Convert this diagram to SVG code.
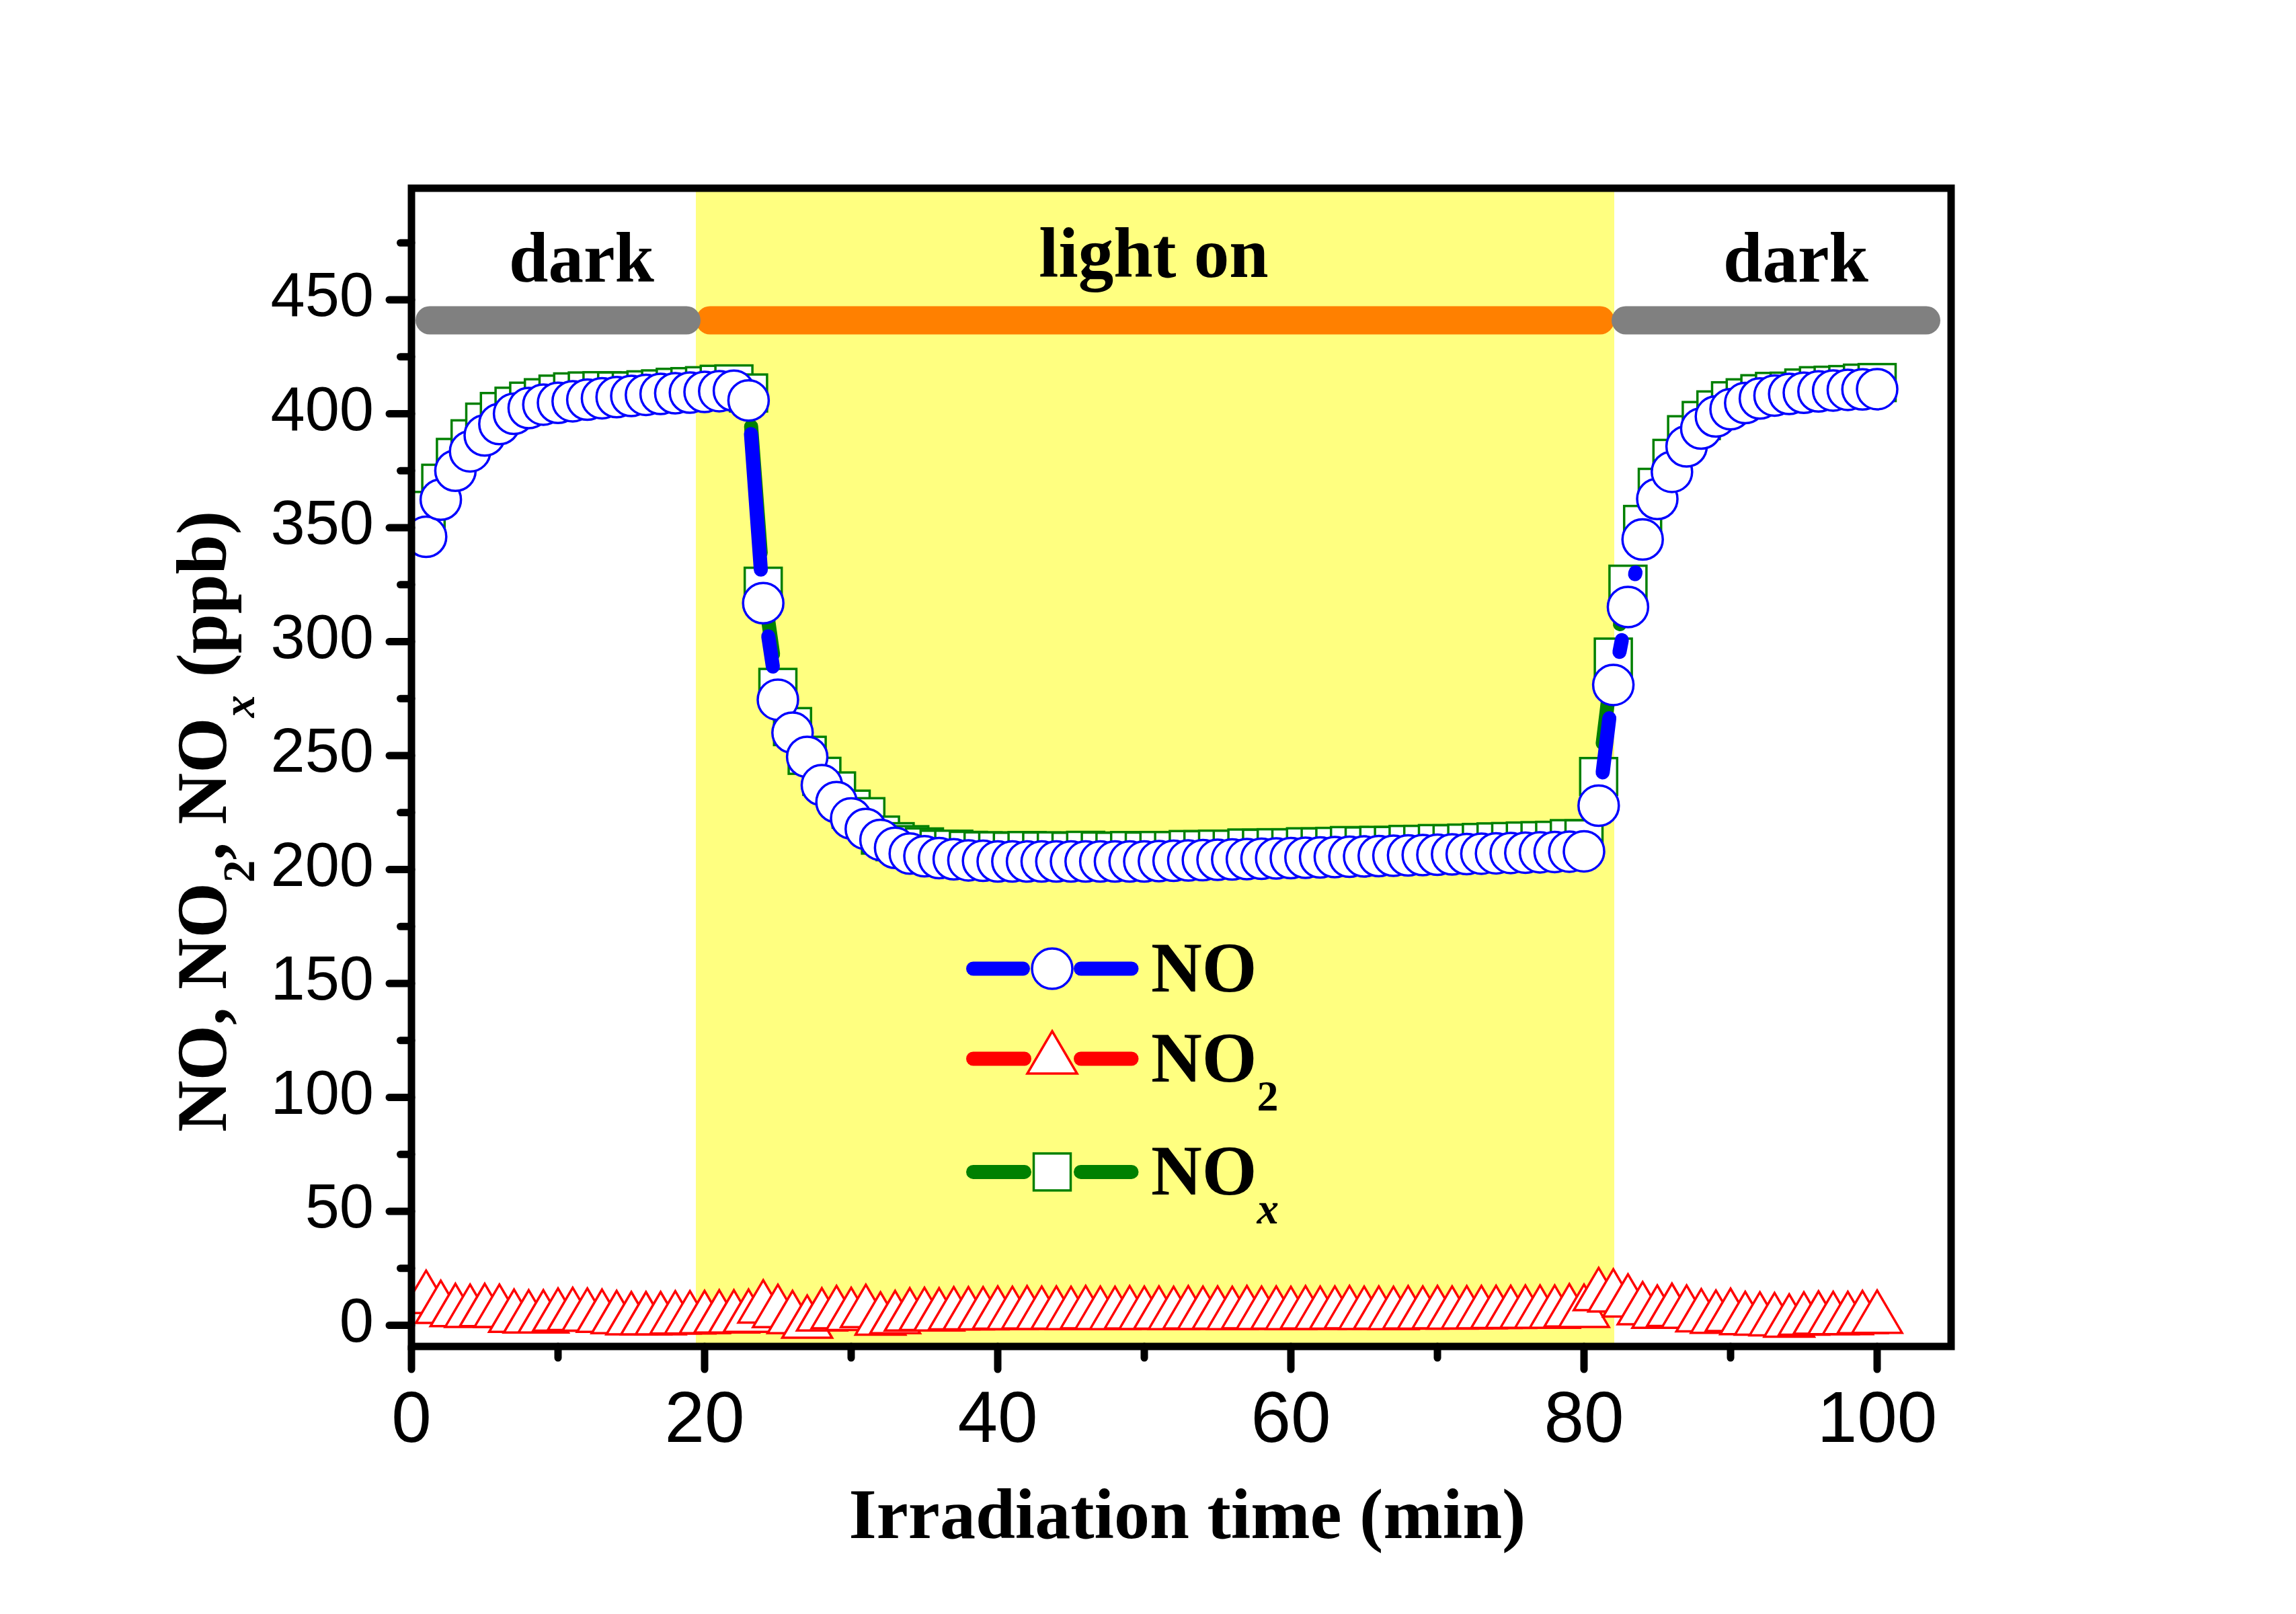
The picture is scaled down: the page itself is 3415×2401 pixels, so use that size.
<svg xmlns="http://www.w3.org/2000/svg" xmlns:xlink="http://www.w3.org/1999/xlink" width="3415" height="2401" viewBox="0 0 3415 2401">
<style>
.tk{font-family:"Liberation Sans",Arial,sans-serif;font-size:92px;fill:#000;text-anchor:end}
.tx{font-family:"Liberation Sans",Arial,sans-serif;font-size:107px;fill:#000;text-anchor:middle}
.tb{font-family:"Liberation Serif","Times New Roman",serif;font-weight:bold;fill:#000}
.blue{stroke:#0000FF;stroke-width:21;stroke-linecap:round;fill:none}
.green{stroke:#008000;stroke-width:21;stroke-linecap:round;fill:none}
.red{stroke:#FF0000;stroke-width:21;stroke-linecap:round;fill:none}
.tick{stroke:#000;stroke-width:11;stroke-linecap:round;fill:none}
</style>
<defs>
<clipPath id="clip"><rect x="612" y="280" width="2290" height="1723"/></clipPath>
<circle id="mc" r="30" fill="#fff" stroke="#0000FF" stroke-width="3.5"/>
<rect id="ms" x="-27.5" y="-27.5" width="55" height="55" fill="#fff" stroke="#008000" stroke-width="3.5"/>
<path id="mt" d="M0,-42 L37,21 L-37,21 Z" fill="#fff" stroke="#FF0000" stroke-width="3.5" stroke-linejoin="miter"/>
</defs>
<rect width="3415" height="2401" fill="#fff"/>
<g id="background">
<rect x="1035" y="280" width="1366" height="1723" fill="#FFFF80"/>
</g>
<g id="phase-bars" stroke-linecap="round" stroke-width="42">
<line x1="1056" y1="476.5" x2="2380" y2="476.5" stroke="#FF8000"/>
<line x1="639" y1="476.5" x2="1021" y2="476.5" stroke="#808080"/>
<line x1="2418" y1="476.5" x2="2865" y2="476.5" stroke="#808080"/>
</g>
<g id="phase-labels" class="tb" font-size="105" text-anchor="middle">
<text x="865" y="419">dark</text>
<text x="1716" y="412">light on</text>
<text x="2671" y="419">dark</text>
</g>
<g id="data" clip-path="url(#clip)">
<g id="series-NOx">
<g class="green">
<line x1="1117.2" y1="634.5" x2="1131.4" y2="822.2"/>
<line x1="1142.4" y1="921.6" x2="1149.8" y2="973.1"/>
<line x1="2383.9" y1="1105.6" x2="2393.5" y2="1027.1"/>
<line x1="2409.5" y1="928.5" x2="2411.5" y2="918.1"/>
</g>
<use href="#ms" x="633.8" y="759.3"/><use href="#ms" x="655.6" y="718.9"/><use href="#ms" x="677.4" y="680.5"/><use href="#ms" x="699.2" y="652.8"/><use href="#ms" x="721" y="628"/><use href="#ms" x="742.8" y="612.2"/><use href="#ms" x="764.6" y="604.3"/><use href="#ms" x="786.4" y="596.8"/><use href="#ms" x="808.2" y="591.7"/><use href="#ms" x="830" y="586.3"/>
<use href="#ms" x="851.8" y="583"/><use href="#ms" x="873.6" y="581.6"/><use href="#ms" x="895.4" y="581.2"/><use href="#ms" x="917.2" y="581.6"/><use href="#ms" x="939" y="581.6"/><use href="#ms" x="960.8" y="579.9"/><use href="#ms" x="982.6" y="578.5"/><use href="#ms" x="1004.4" y="576.2"/><use href="#ms" x="1026.2" y="575.2"/><use href="#ms" x="1048" y="573.8"/>
<use href="#ms" x="1069.8" y="571.7"/><use href="#ms" x="1091.6" y="571.1"/><use href="#ms" x="1113.4" y="584.6"/><use href="#ms" x="1135.2" y="872.1"/><use href="#ms" x="1157" y="1022.6"/><use href="#ms" x="1178.8" y="1080.9"/><use href="#ms" x="1200.6" y="1123.6"/><use href="#ms" x="1222.4" y="1154.9"/><use href="#ms" x="1244.2" y="1176.6"/><use href="#ms" x="1266" y="1203.7"/>
<use href="#ms" x="1287.8" y="1214.9"/><use href="#ms" x="1309.6" y="1242.3"/><use href="#ms" x="1331.4" y="1252.1"/><use href="#ms" x="1353.2" y="1256.6"/><use href="#ms" x="1375" y="1259.9"/><use href="#ms" x="1396.8" y="1263.3"/><use href="#ms" x="1418.6" y="1263.3"/><use href="#ms" x="1440.4" y="1265"/><use href="#ms" x="1462.2" y="1265.7"/><use href="#ms" x="1484" y="1265.7"/>
<use href="#ms" x="1505.8" y="1266.3"/><use href="#ms" x="1527.6" y="1265.3"/><use href="#ms" x="1549.4" y="1266"/><use href="#ms" x="1571.2" y="1265.7"/><use href="#ms" x="1593" y="1266.3"/><use href="#ms" x="1614.8" y="1265"/><use href="#ms" x="1636.6" y="1266"/><use href="#ms" x="1658.4" y="1266.3"/><use href="#ms" x="1680.2" y="1265.3"/><use href="#ms" x="1702" y="1266"/>
<use href="#ms" x="1723.8" y="1265.2"/><use href="#ms" x="1745.6" y="1265.3"/><use href="#ms" x="1767.4" y="1263.8"/><use href="#ms" x="1789.2" y="1264"/><use href="#ms" x="1811" y="1263.2"/><use href="#ms" x="1832.8" y="1263.3"/><use href="#ms" x="1854.6" y="1261.5"/><use href="#ms" x="1876.4" y="1261.9"/><use href="#ms" x="1898.2" y="1261.1"/><use href="#ms" x="1920" y="1261.2"/>
<use href="#ms" x="1941.8" y="1259.7"/><use href="#ms" x="1963.6" y="1259.9"/><use href="#ms" x="1985.4" y="1259.1"/><use href="#ms" x="2007.2" y="1257.9"/><use href="#ms" x="2029" y="1258.4"/><use href="#ms" x="2050.8" y="1257.6"/><use href="#ms" x="2072.6" y="1257.7"/><use href="#ms" x="2094.4" y="1256.2"/><use href="#ms" x="2116.2" y="1256.1"/><use href="#ms" x="2138" y="1254.9"/>
<use href="#ms" x="2159.8" y="1255.1"/><use href="#ms" x="2181.6" y="1254.2"/><use href="#ms" x="2203.4" y="1253.3"/><use href="#ms" x="2225.2" y="1252.4"/><use href="#ms" x="2247" y="1251.9"/><use href="#ms" x="2268.8" y="1251.1"/><use href="#ms" x="2290.6" y="1250.6"/><use href="#ms" x="2312.4" y="1250.1"/><use href="#ms" x="2334.2" y="1247.6"/><use href="#ms" x="2356" y="1247.8"/>
<use href="#ms" x="2377.8" y="1155.2"/><use href="#ms" x="2399.6" y="977.5"/><use href="#ms" x="2421.4" y="869.1"/><use href="#ms" x="2443.2" y="780.2"/><use href="#ms" x="2465" y="725"/><use href="#ms" x="2486.8" y="681.9"/><use href="#ms" x="2508.6" y="646.7"/><use href="#ms" x="2530.4" y="625.6"/><use href="#ms" x="2552.2" y="609.8"/><use href="#ms" x="2574" y="596.2"/>
<use href="#ms" x="2595.8" y="591.8"/><use href="#ms" x="2617.6" y="585.7"/><use href="#ms" x="2639.4" y="582.3"/><use href="#ms" x="2661.2" y="581.9"/><use href="#ms" x="2683" y="577.2"/><use href="#ms" x="2704.8" y="573.8"/><use href="#ms" x="2726.6" y="573.1"/><use href="#ms" x="2748.4" y="572.1"/><use href="#ms" x="2770.2" y="570"/><use href="#ms" x="2792" y="569.1"/>
</g>
<g id="series-NO2">
<use href="#mt" x="633.8" y="1932.2"/><use href="#mt" x="655.6" y="1947.1"/><use href="#mt" x="677.4" y="1951.8"/><use href="#mt" x="699.2" y="1952.9"/><use href="#mt" x="721" y="1951.8"/><use href="#mt" x="742.8" y="1952.9"/><use href="#mt" x="764.6" y="1960.3"/><use href="#mt" x="786.4" y="1961.3"/><use href="#mt" x="808.2" y="1961.3"/><use href="#mt" x="830" y="1958.6"/>
<use href="#mt" x="851.8" y="1957.6"/><use href="#mt" x="873.6" y="1958.6"/><use href="#mt" x="895.4" y="1960.3"/><use href="#mt" x="917.2" y="1962.3"/><use href="#mt" x="939" y="1964"/><use href="#mt" x="960.8" y="1964"/><use href="#mt" x="982.6" y="1964"/><use href="#mt" x="1004.4" y="1962.7"/><use href="#mt" x="1026.2" y="1962.7"/><use href="#mt" x="1048" y="1962.3"/>
<use href="#mt" x="1069.8" y="1961.3"/><use href="#mt" x="1091.6" y="1961.3"/><use href="#mt" x="1113.4" y="1960.3"/><use href="#mt" x="1135.2" y="1946.4"/><use href="#mt" x="1157" y="1953.2"/><use href="#mt" x="1178.8" y="1962.3"/><use href="#mt" x="1200.6" y="1969.1"/><use href="#mt" x="1222.4" y="1958.3"/><use href="#mt" x="1244.2" y="1954.9"/><use href="#mt" x="1266" y="1957.6"/>
<use href="#mt" x="1287.8" y="1953.2"/><use href="#mt" x="1309.6" y="1964.4"/><use href="#mt" x="1331.4" y="1962.3"/><use href="#mt" x="1353.2" y="1958.3"/><use href="#mt" x="1375" y="1957.6"/><use href="#mt" x="1396.8" y="1958.3"/><use href="#mt" x="1418.6" y="1956.6"/><use href="#mt" x="1440.4" y="1956.6"/><use href="#mt" x="1462.2" y="1956.6"/><use href="#mt" x="1484" y="1955.6"/>
<use href="#mt" x="1505.8" y="1956.2"/><use href="#mt" x="1527.6" y="1955.2"/><use href="#mt" x="1549.4" y="1955.9"/><use href="#mt" x="1571.2" y="1955.6"/><use href="#mt" x="1593" y="1956.2"/><use href="#mt" x="1614.8" y="1954.9"/><use href="#mt" x="1636.6" y="1955.9"/><use href="#mt" x="1658.4" y="1956.2"/><use href="#mt" x="1680.2" y="1955.2"/><use href="#mt" x="1702" y="1955.9"/>
<use href="#mt" x="1723.8" y="1955.6"/><use href="#mt" x="1745.6" y="1956.2"/><use href="#mt" x="1767.4" y="1955.2"/><use href="#mt" x="1789.2" y="1955.9"/><use href="#mt" x="1811" y="1955.6"/><use href="#mt" x="1832.8" y="1956.2"/><use href="#mt" x="1854.6" y="1954.9"/><use href="#mt" x="1876.4" y="1955.9"/><use href="#mt" x="1898.2" y="1955.6"/><use href="#mt" x="1920" y="1956.2"/>
<use href="#mt" x="1941.8" y="1955.2"/><use href="#mt" x="1963.6" y="1955.9"/><use href="#mt" x="1985.4" y="1955.6"/><use href="#mt" x="2007.2" y="1954.9"/><use href="#mt" x="2029" y="1955.9"/><use href="#mt" x="2050.8" y="1955.6"/><use href="#mt" x="2072.6" y="1956.2"/><use href="#mt" x="2094.4" y="1955.2"/><use href="#mt" x="2116.2" y="1955.6"/><use href="#mt" x="2138" y="1954.9"/>
<use href="#mt" x="2159.8" y="1955.6"/><use href="#mt" x="2181.6" y="1955.2"/><use href="#mt" x="2203.4" y="1954.9"/><use href="#mt" x="2225.2" y="1954.6"/><use href="#mt" x="2247" y="1954.6"/><use href="#mt" x="2268.8" y="1954.2"/><use href="#mt" x="2290.6" y="1954.2"/><use href="#mt" x="2312.4" y="1954.2"/><use href="#mt" x="2334.2" y="1952.2"/><use href="#mt" x="2356" y="1952.9"/>
<use href="#mt" x="2377.8" y="1928.1"/><use href="#mt" x="2399.6" y="1930.1"/><use href="#mt" x="2421.4" y="1937.6"/><use href="#mt" x="2443.2" y="1949.1"/><use href="#mt" x="2465" y="1954.2"/><use href="#mt" x="2486.8" y="1951.5"/><use href="#mt" x="2508.6" y="1954.2"/><use href="#mt" x="2530.4" y="1959.6"/><use href="#mt" x="2552.2" y="1961.7"/><use href="#mt" x="2574" y="1959"/>
<use href="#mt" x="2595.8" y="1963.7"/><use href="#mt" x="2617.6" y="1964.4"/><use href="#mt" x="2639.4" y="1965.4"/><use href="#mt" x="2661.2" y="1967.4"/><use href="#mt" x="2683" y="1964.4"/><use href="#mt" x="2704.8" y="1963"/><use href="#mt" x="2726.6" y="1963.7"/><use href="#mt" x="2748.4" y="1963.7"/><use href="#mt" x="2770.2" y="1962.3"/><use href="#mt" x="2792" y="1961.7"/>
</g>
<g id="series-NO">
<g class="blue">
<line x1="1117" y1="645.7" x2="1131.6" y2="847.3"/>
<line x1="1142.7" y1="946.7" x2="1149.5" y2="991.5"/>
<line x1="2383.8" y1="1149" x2="2393.6" y2="1068.5"/>
<line x1="2408.8" y1="969.8" x2="2412.2" y2="952.2"/>
<line x1="2432" y1="854.1" x2="2432.6" y2="851.5"/>
</g>
<use href="#mc" x="633.8" y="798.6"/><use href="#mc" x="655.6" y="743.3"/><use href="#mc" x="677.4" y="700.2"/><use href="#mc" x="699.2" y="671.4"/><use href="#mc" x="721" y="647.7"/><use href="#mc" x="742.8" y="630.8"/><use href="#mc" x="764.6" y="615.5"/><use href="#mc" x="786.4" y="607"/><use href="#mc" x="808.2" y="601.9"/><use href="#mc" x="830" y="599.2"/>
<use href="#mc" x="851.8" y="596.9"/><use href="#mc" x="873.6" y="594.5"/><use href="#mc" x="895.4" y="592.4"/><use href="#mc" x="917.2" y="590.8"/><use href="#mc" x="939" y="589.1"/><use href="#mc" x="960.8" y="587.4"/><use href="#mc" x="982.6" y="586"/><use href="#mc" x="1004.4" y="585"/><use href="#mc" x="1026.2" y="584"/><use href="#mc" x="1048" y="583"/>
<use href="#mc" x="1069.8" y="581.9"/><use href="#mc" x="1091.6" y="581.3"/><use href="#mc" x="1113.4" y="595.8"/><use href="#mc" x="1135.2" y="897.2"/><use href="#mc" x="1157" y="1040.9"/><use href="#mc" x="1178.8" y="1090.1"/><use href="#mc" x="1200.6" y="1126"/><use href="#mc" x="1222.4" y="1168.1"/><use href="#mc" x="1244.2" y="1193.2"/><use href="#mc" x="1266" y="1217.6"/>
<use href="#mc" x="1287.8" y="1233.2"/><use href="#mc" x="1309.6" y="1249.4"/><use href="#mc" x="1331.4" y="1261.3"/><use href="#mc" x="1353.2" y="1269.8"/><use href="#mc" x="1375" y="1273.8"/><use href="#mc" x="1396.8" y="1276.5"/><use href="#mc" x="1418.6" y="1278.2"/><use href="#mc" x="1440.4" y="1279.9"/><use href="#mc" x="1462.2" y="1280.6"/><use href="#mc" x="1484" y="1281.6"/>
<use href="#mc" x="1505.8" y="1281.6"/><use href="#mc" x="1527.6" y="1281.6"/><use href="#mc" x="1549.4" y="1281.6"/><use href="#mc" x="1571.2" y="1281.6"/><use href="#mc" x="1593" y="1281.6"/><use href="#mc" x="1614.8" y="1281.6"/><use href="#mc" x="1636.6" y="1281.6"/><use href="#mc" x="1658.4" y="1281.6"/><use href="#mc" x="1680.2" y="1281.6"/><use href="#mc" x="1702" y="1281.6"/>
<use href="#mc" x="1723.8" y="1281.1"/><use href="#mc" x="1745.6" y="1280.6"/><use href="#mc" x="1767.4" y="1280.1"/><use href="#mc" x="1789.2" y="1279.6"/><use href="#mc" x="1811" y="1279.1"/><use href="#mc" x="1832.8" y="1278.6"/><use href="#mc" x="1854.6" y="1278.1"/><use href="#mc" x="1876.4" y="1277.5"/><use href="#mc" x="1898.2" y="1277"/><use href="#mc" x="1920" y="1276.5"/>
<use href="#mc" x="1941.8" y="1276"/><use href="#mc" x="1963.6" y="1275.5"/><use href="#mc" x="1985.4" y="1275"/><use href="#mc" x="2007.2" y="1274.5"/><use href="#mc" x="2029" y="1274"/><use href="#mc" x="2050.8" y="1273.5"/><use href="#mc" x="2072.6" y="1273"/><use href="#mc" x="2094.4" y="1272.5"/><use href="#mc" x="2116.2" y="1272"/><use href="#mc" x="2138" y="1271.5"/>
<use href="#mc" x="2159.8" y="1271"/><use href="#mc" x="2181.6" y="1270.5"/><use href="#mc" x="2203.4" y="1269.9"/><use href="#mc" x="2225.2" y="1269.4"/><use href="#mc" x="2247" y="1268.9"/><use href="#mc" x="2268.8" y="1268.4"/><use href="#mc" x="2290.6" y="1267.9"/><use href="#mc" x="2312.4" y="1267.4"/><use href="#mc" x="2334.2" y="1266.9"/><use href="#mc" x="2356" y="1266.4"/>
<use href="#mc" x="2377.8" y="1198.6"/><use href="#mc" x="2399.6" y="1018.9"/><use href="#mc" x="2421.4" y="903"/><use href="#mc" x="2443.2" y="802.6"/><use href="#mc" x="2465" y="742.3"/><use href="#mc" x="2486.8" y="701.9"/><use href="#mc" x="2508.6" y="664"/><use href="#mc" x="2530.4" y="637.5"/><use href="#mc" x="2552.2" y="619.6"/><use href="#mc" x="2574" y="608.7"/>
<use href="#mc" x="2595.8" y="599.6"/><use href="#mc" x="2617.6" y="592.8"/><use href="#mc" x="2639.4" y="588.4"/><use href="#mc" x="2661.2" y="586"/><use href="#mc" x="2683" y="584.3"/><use href="#mc" x="2704.8" y="582.3"/><use href="#mc" x="2726.6" y="580.9"/><use href="#mc" x="2748.4" y="579.9"/><use href="#mc" x="2770.2" y="579.2"/><use href="#mc" x="2792" y="578.9"/>
</g>
</g>
<g id="axes">
<rect x="612" y="280" width="2290" height="1723" fill="none" stroke="#000" stroke-width="11"/>
<path class="tick" d="M612,1971.5H579M612,1802H579M612,1632.5H579M612,1463H579M612,1293.5H579M612,1124H579M612,954.5H579M612,785H579M612,615.5H579M612,446H579"/>
<path class="tick" d="M612,1886.75H595.5M612,1717.25H595.5M612,1547.75H595.5M612,1378.25H595.5M612,1208.75H595.5M612,1039.25H595.5M612,869.75H595.5M612,700.25H595.5M612,530.75H595.5M612,361.25H595.5"/>
<path class="tick" d="M612,2003V2037M1048,2003V2037M1484,2003V2037M1920,2003V2037M2356,2003V2037M2792,2003V2037"/>
<path class="tick" d="M830,2003V2020M1266,2003V2020M1702,2003V2020M2138,2003V2020M2574,2003V2020"/>
</g>
<g id="y-tick-labels" class="tk">
<text x="556" y="1995.5">0</text>
<text x="556" y="1826">50</text>
<text x="556" y="1656.5">100</text>
<text x="556" y="1487">150</text>
<text x="556" y="1317.5">200</text>
<text x="556" y="1148">250</text>
<text x="556" y="978.5">300</text>
<text x="556" y="809">350</text>
<text x="556" y="639.5">400</text>
<text x="556" y="470">450</text>
</g>
<g id="x-tick-labels" class="tx">
<text x="612" y="2145">0</text>
<text x="1048" y="2145">20</text>
<text x="1484" y="2145">40</text>
<text x="1920" y="2145">60</text>
<text x="2356" y="2145">80</text>
<text x="2792" y="2145">100</text>
</g>
<g id="x-title">
<text class="tb" x="1766" y="2288" font-size="106" text-anchor="middle">Irradiation time (min)</text>
</g>
<g id="y-title">
<text class="tb" transform="translate(336,1222) rotate(-90)" font-size="106" text-anchor="middle">NO, NO<tspan font-size="67" dy="42">2</tspan><tspan dy="-42">, NO</tspan><tspan font-size="67" font-style="italic" dy="42">x</tspan><tspan dy="-42"> (ppb)</tspan></text>
</g>
<g id="legend">
<g id="legend-NO">
<line class="blue" x1="1447.5" y1="1441" x2="1521.5" y2="1441"/>
<line class="blue" x1="1607.5" y1="1441" x2="1683" y2="1441"/>
<use href="#mc" x="1565" y="1441"/>
<text class="tb" x="1712" y="1474.5" font-size="105">NO</text>
</g>
<g id="legend-NO2">
<line class="red" x1="1447.5" y1="1575" x2="1523.5" y2="1575"/>
<line class="red" x1="1607.5" y1="1575" x2="1683" y2="1575"/>
<use href="#mt" x="1565" y="1576"/>
<text class="tb" x="1712" y="1608.5" font-size="105">NO<tspan font-size="64" dy="43">2</tspan></text>
</g>
<g id="legend-NOx">
<line class="green" x1="1447.5" y1="1743.4" x2="1523.5" y2="1743.4"/>
<line class="green" x1="1607.5" y1="1743.4" x2="1683" y2="1743.4"/>
<use href="#ms" x="1565" y="1743.4"/>
<text class="tb" x="1712" y="1777" font-size="105">NO<tspan font-size="65" font-style="italic" dy="43">x</tspan></text>
</g>
</g>
</svg>
